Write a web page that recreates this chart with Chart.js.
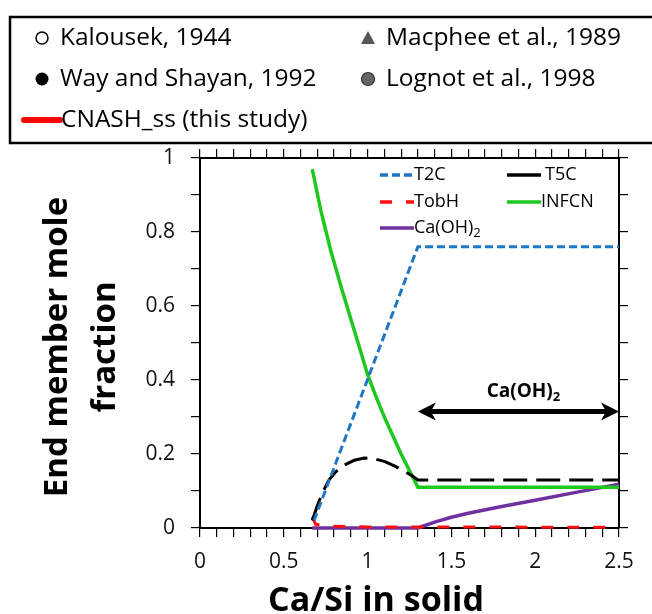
<!DOCTYPE html>
<html>
<head>
<meta charset="utf-8">
<script src="https://cdn.jsdelivr.net/npm/chart.js@4.4.1/dist/chart.umd.min.js"></script>
<style>
  body { margin: 0; background: #fff; }
  #wrap { width: 652px; height: 614px; }
</style>
</head>
<body>
<div id="wrap"><canvas id="chart" width="652" height="614"></canvas></div>
<script>
// data
const t2cX = [0.68, 1.30, 2.50];
const t2cY = [0.02, 0.76, 0.76];
const t5cX = [0.67, 0.70, 0.73, 0.77, 0.81, 0.86, 0.92, 0.98, 1.04, 1.10, 1.16, 1.22, 1.27, 1.30, 2.50];
const t5cY = [0.02, 0.06, 0.095, 0.13, 0.152, 0.17, 0.183, 0.189, 0.187, 0.18, 0.168, 0.153, 0.14, 0.13, 0.13];
const tobhX = [0.67, 0.69, 0.75, 1.00, 2.50];
const tobhY = [0.03, 0.01, 0.005, 0.003, 0.002];
const infcnX = [0.67, 0.72, 0.78, 0.84, 0.90, 0.95, 1.00, 1.05, 1.10, 1.15, 1.20, 1.25, 1.30, 2.50];
const infcnY = [0.97, 0.86, 0.75, 0.655, 0.565, 0.49, 0.415, 0.355, 0.30, 0.25, 0.20, 0.155, 0.11, 0.11];
const chX = [0.67, 1.30, 1.40, 1.50, 1.60, 1.80, 2.00, 2.25, 2.50];
const chY = [0, 0, 0.016, 0.029, 0.04, 0.058, 0.075, 0.097, 0.118];

const seriesNames = ['T2C', 'T5C', 'TobH', 'INFCN', 'Ca(OH)2'];
const refNames = ['Kalousek, 1944', 'Macphee et al., 1989', 'Way and Shayan, 1992', 'Lognot et al., 1998', 'CNASH_ss (this study)'];
const arrowX = [1.3, 2.5];
const arrowY = 0.315;

const FONT = "'Open Sans', 'Noto Sans', sans-serif";
const pts = (xs, ys) => xs.map((x, i) => ({ x: x, y: ys[i] }));

function line(label, xs, ys, color, dash, width) {
  return {
    label: label, data: pts(xs, ys), borderColor: color, backgroundColor: color,
    borderWidth: width || 3, borderDash: dash || [], pointRadius: 0, tension: 0, clip: false
  };
}

const axisGrid = { drawOnChartArea: false, drawTicks: true, tickLength: 9, color: '#000', lineWidth: 1.2 };
const axisBorder = { display: true, color: '#000', width: 2 };

function drawText(ctx, txt, x, y, font, align) {
  ctx.font = font; ctx.textAlign = align || 'left'; ctx.textBaseline = 'middle';
  ctx.fillText(txt, x, y);
}

// subscript "2" after Ca(OH)
function drawCaOH(ctx, x, y, size, bold, align) {
  const w = bold ? 'bold ' : '';
  ctx.font = w + size + 'px ' + FONT;
  const main = 'Ca(OH)';
  const mw = ctx.measureText(main).width;
  ctx.font = w + Math.round(size * 0.7) + 'px ' + FONT;
  const sw = ctx.measureText('2').width;
  let x0 = x;
  if (align === 'center') x0 = x - (mw + sw) / 2;
  ctx.textAlign = 'left'; ctx.textBaseline = 'middle';
  ctx.font = w + size + 'px ' + FONT;
  ctx.fillText(main, x0, y);
  ctx.font = w + Math.round(size * 0.7) + 'px ' + FONT;
  ctx.fillText('2', x0 + mw, y + size * 0.3);
}

const extras = {
  id: 'extras',
  afterDraw(chart) {
    const ctx = chart.ctx;
    const xs = chart.scales.x, ys = chart.scales.y;
    ctx.save();
    ctx.fillStyle = '#000';

    // axis titles
    ctx.save();
    ctx.translate(58, 347);
    ctx.rotate(-Math.PI / 2);
    drawText(ctx, 'End member mole', 0, 0, 'bold 33px ' + FONT, 'center');
    drawText(ctx, 'fraction', 0, 48, 'bold 33px ' + FONT, 'center');
    ctx.restore();
    ctx.textBaseline = 'alphabetic';
    ctx.font = 'bold 34px ' + FONT; ctx.textAlign = 'center';
    ctx.fillText('Ca/Si in solid', 376, 611);

    // double arrow for Ca(OH)2 region
    const ax1 = xs.getPixelForValue(arrowX[0]), ax2 = xs.getPixelForValue(arrowX[1]);
    const ay = ys.getPixelForValue(arrowY);
    ctx.strokeStyle = '#000'; ctx.lineWidth = 5;
    ctx.beginPath(); ctx.moveTo(ax1 + 10, ay); ctx.lineTo(ax2 - 10, ay); ctx.stroke();
    ctx.beginPath();
    ctx.moveTo(ax1, ay); ctx.lineTo(ax1 + 18, ay - 9); ctx.lineTo(ax1 + 13, ay); ctx.lineTo(ax1 + 18, ay + 9); ctx.closePath();
    ctx.moveTo(ax2, ay); ctx.lineTo(ax2 - 18, ay - 9); ctx.lineTo(ax2 - 13, ay); ctx.lineTo(ax2 - 18, ay + 9); ctx.closePath();
    ctx.fill();
    drawCaOH(ctx, (ax1 + ax2) / 2 + 5, ay - 20, 19, true, 'center');

    // inner legend
    const ds = chart.data.datasets;
    const items = [[380, 175, 0], [507, 175, 1], [380, 202, 2], [507, 202, 3], [380, 228, 4]];
    items.forEach(([lx, ly, i]) => {
      const d = ds[i];
      ctx.strokeStyle = d.borderColor; ctx.lineWidth = 3.5;
      ctx.setLineDash(i === 1 ? [] : d.borderDash);
      ctx.beginPath(); ctx.moveTo(lx, ly); ctx.lineTo(lx + 34, ly); ctx.stroke();
      ctx.setLineDash([]);
      ctx.fillStyle = '#000';
      if (d.label === 'Ca(OH)2') drawCaOH(ctx, lx + 34, ly, 18, false, 'left');
      else drawText(ctx, d.label, lx + 34 + (i === 1 ? 4 : 0), ly, '18px ' + FONT, 'left');
    });

    // reference legend box
    ctx.fillStyle = '#fff';
    ctx.fillRect(10, 17, 660, 126);
    ctx.strokeStyle = '#000'; ctx.lineWidth = 2.5;
    ctx.strokeRect(10, 17, 660, 126);
    ctx.fillStyle = '#000';
    const lf = '24.5px ' + FONT;
    const r1 = 38, r2 = 79, r3 = 120;
    // open circle
    ctx.lineWidth = 1.5;
    ctx.beginPath(); ctx.arc(42, r1, 6, 0, Math.PI * 2); ctx.stroke();
    drawText(ctx, refNames[0], 60, r1, lf);
    // triangle
    ctx.fillStyle = '#555';
    ctx.beginPath(); ctx.moveTo(368, r1 - 7); ctx.lineTo(375, r1 + 6); ctx.lineTo(361, r1 + 6); ctx.closePath(); ctx.fill();
    ctx.fillStyle = '#000';
    drawText(ctx, refNames[1], 386, r1, lf);
    // filled circle
    ctx.beginPath(); ctx.arc(42, r2, 6.5, 0, Math.PI * 2); ctx.fill();
    drawText(ctx, refNames[2], 60, r2, lf);
    // gray circle
    ctx.fillStyle = '#666'; ctx.strokeStyle = '#333'; ctx.lineWidth = 1.2;
    ctx.beginPath(); ctx.arc(368, r2, 6.5, 0, Math.PI * 2); ctx.fill(); ctx.stroke();
    ctx.fillStyle = '#000';
    drawText(ctx, refNames[3], 386, r2, lf);
    // red line
    ctx.strokeStyle = '#ff0000'; ctx.lineWidth = 6; ctx.lineCap = 'round';
    ctx.beginPath(); ctx.moveTo(24, r3); ctx.lineTo(60, r3); ctx.stroke();
    drawText(ctx, refNames[4], 61, r3, lf);

    ctx.restore();
  }
};

new Chart(document.getElementById('chart'), {
  type: 'line',
  data: {
    datasets: [
      line(seriesNames[0], t2cX, t2cY, '#1f77c4', [8, 4], 3),
      line(seriesNames[1], t5cX, t5cY, '#000000', [24, 9], 3),
      line(seriesNames[2], tobhX, tobhY, '#ff1010', [12, 14], 3),
      line(seriesNames[3], infcnX, infcnY, '#1ec81e', null, 3.5),
      line(seriesNames[4], chX, chY, '#7030a0', null, 3.5)
    ]
  },
  options: {
    responsive: false,
    animation: false,
    layout: { padding: 0 },
    plugins: { legend: { display: false }, tooltip: { enabled: false } },
    scales: {
      x: {
        type: 'linear', position: 'bottom', min: 0, max: 2.5,
        grid: axisGrid, border: axisBorder,
        ticks: {
          stepSize: 0.1, autoSkip: false, maxRotation: 0, padding: 12, color: '#111',
          font: { family: FONT, size: 21 },
          callback: v => Math.abs(v * 2 - Math.round(v * 2)) < 1e-6 ? String(Math.round(v * 10) / 10) : ''
        },
        afterFit: s => { s.height = 86; }
      },
      x2: {
        type: 'linear', position: 'top', min: 0, max: 2.5,
        grid: axisGrid, border: axisBorder,
        ticks: { stepSize: 0.1, autoSkip: false, display: false },
        afterFit: s => { s.height = 158; }
      },
      y: {
        type: 'linear', position: 'left', min: 0, max: 1,
        grid: axisGrid, border: axisBorder,
        ticks: {
          stepSize: 0.1, autoSkip: false, padding: 16, color: '#111',
          font: { family: FONT, size: 21 },
          callback: v => Math.abs(v * 5 - Math.round(v * 5)) < 1e-6 ? String(Math.round(v * 10) / 10) : ''
        },
        afterFit: s => { s.width = 200; }
      },
      y2: {
        type: 'linear', position: 'right', min: 0, max: 1,
        grid: axisGrid, border: axisBorder,
        ticks: { stepSize: 0.1, autoSkip: false, display: false },
        afterFit: s => { s.width = 33; }
      }
    }
  },
  plugins: [extras]
});
</script>
</body>
</html>
